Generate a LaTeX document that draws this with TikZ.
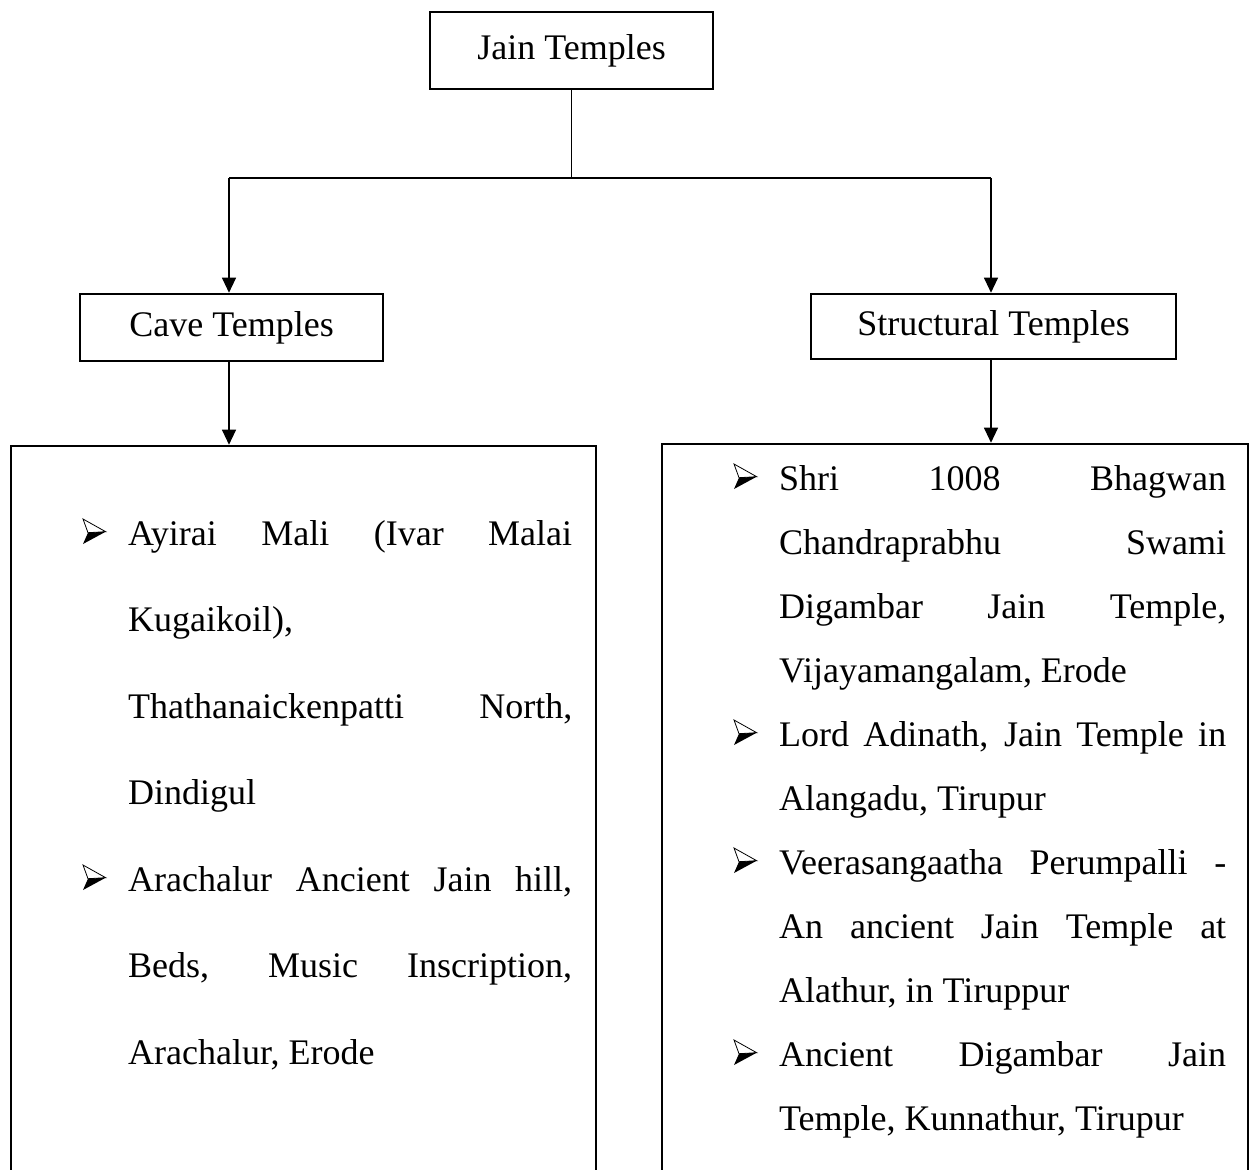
\documentclass[tikz,border=0pt]{standalone}
\usepackage{fontspec}
\setmainfont{Liberation Serif}
\usetikzlibrary{arrows.meta}
\begin{document}
\begin{tikzpicture}[x=1pt,y=1pt,
  box/.style={draw, line width=2.6pt, inner sep=0pt, font=\fontsize{36}{43}\selectfont},
  listbox/.style={draw, line width=2.6pt, inner sep=0pt},
  conn/.style={line width=1.1pt},
  arr/.style={conn, -{Triangle[width=14pt,length=15pt]}},
  txt/.style={anchor=base west, inner sep=0pt, font=\fontsize{36}{43}\selectfont},
  ddbullet/.pic={
    \draw[line width=0.8pt, line join=miter] (0,26) -- (22.7,13.3) -- (5,12.3) -- cycle;
    \fill (5,12.3) -- (22.7,13.3) -- (0,1) -- cycle;
  }]
\useasboundingbox (0,0) rectangle (1253,-1170);
% top
\node[box, minimum width=283pt, minimum height=77pt] (jain) at (571.5,-50.5) {Jain Temples};
\node[box, minimum width=303pt, minimum height=67pt] (cave) at (231.5,-327.5) {Cave Temples};
\node[box, minimum width=365pt, minimum height=65pt] (struct) at (993.5,-326.5) {Structural Temples};
% list boxes
\node[listbox, minimum width=585pt, minimum height=780pt] (cavelist) at (303.5,-836) {};
\node[listbox, minimum width=586pt, minimum height=780pt] (structlist) at (955,-834) {};
% connectors
\coordinate (jt) at (571.5,-178);
\coordinate (cl) at (229,-178);
\coordinate (cr) at (991,-178);
\draw[conn] (jain.south) -- (jt);
\draw[conn] (cl) -- (cr);
\draw[arr] (cl) -- (cl |- cave.north);
\draw[arr] (cr) -- (cr |- struct.north);
\draw[arr] (cl |- cave.south) -- (cl |- cavelist.north);
\draw[arr] (cr |- struct.south) -- (cr |- structlist.north);
% left list
\pic at (83,-545) {ddbullet};
\node[txt] (l1) at (128,-545) {\makebox[444pt][s]{Ayirai Mali (Ivar Malai}};
\node[txt] (l2) at (128,-631.5) {Kugaikoil),};
\node[txt] (l3) at (128,-718) {\makebox[444pt][s]{Thathanaickenpatti North,}};
\node[txt] (l4) at (128,-804.5) {Dindigul};
\pic at (83,-891) {ddbullet};
\node[txt] (l5) at (128,-891) {\makebox[444pt][s]{Arachalur Ancient Jain hill,}};
\node[txt] (l6) at (128,-977.5) {\makebox[444pt][s]{Beds, Music Inscription,}};
\node[txt] (l7) at (128,-1064) {Arachalur, Erode};
% right list
\pic at (734,-490) {ddbullet};
\node[txt] (r1) at (779,-490) {\makebox[447pt][s]{Shri 1008 Bhagwan}};
\node[txt] (r2) at (779,-554) {\makebox[447pt][s]{Chandraprabhu Swami}};
\node[txt] (r3) at (779,-618) {\makebox[447pt][s]{Digambar Jain Temple,}};
\node[txt] (r4) at (779,-682) {Vijayamangalam, Erode};
\pic at (734,-746) {ddbullet};
\node[txt] (r5) at (779,-746) {\makebox[447pt][s]{Lord Adinath, Jain Temple in}};
\node[txt] (r6) at (779,-810) {Alangadu, Tirupur};
\pic at (734,-874) {ddbullet};
\node[txt] (r7) at (779,-874) {\makebox[447pt][s]{Veerasangaatha Perumpalli -}};
\node[txt] (r8) at (779,-938) {\makebox[447pt][s]{An ancient Jain Temple at}};
\node[txt] (r9) at (779,-1002) {Alathur, in Tiruppur};
\pic at (734,-1066) {ddbullet};
\node[txt] (r10) at (779,-1066) {\makebox[447pt][s]{Ancient Digambar Jain}};
\node[txt] (r11) at (779,-1130) {Temple, Kunnathur, Tirupur};
\end{tikzpicture}
\end{document}
